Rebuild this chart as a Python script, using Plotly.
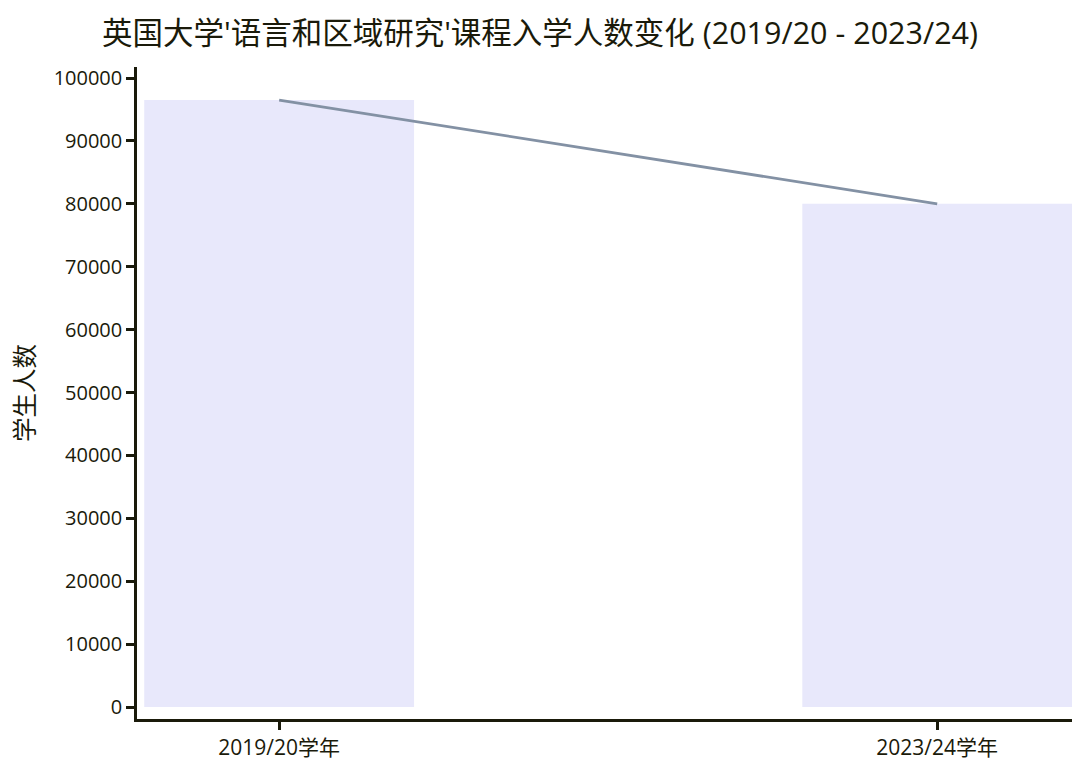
import plotly.graph_objects as go

categories = ["2019/20学年", "2023/24学年"]
students = [96500, 80000]
y_ticks = [0, 10000, 20000, 30000, 40000, 50000, 60000, 70000, 80000, 90000, 100000]

FONT = "Open Sans, Noto Sans CJK SC"
INK = "#1a1a0a"

fig = go.Figure()
fig.add_trace(go.Bar(x=categories, y=students, marker=dict(color="#E8E8FB", line=dict(width=0)),
                     width=0.41, showlegend=False, hoverinfo="x+y"))
fig.add_trace(go.Scatter(x=categories, y=students, mode="lines",
                         line=dict(color="#8391A4", width=2.8), showlegend=False))

fig.update_layout(
    width=1080, height=772,
    margin=dict(l=129, r=8, t=59, b=61),
    paper_bgcolor="white", plot_bgcolor="white",
    font=dict(family=FONT, color=INK, size=20),
    title=dict(text="英国大学'语言和区域研究'课程入学人数变化 (2019/20 - 2023/24)",
               x=0.4926, xanchor="center", y=0.9676, yanchor="middle",
               font=dict(size=30.5, family=FONT, color=INK)),
    xaxis=dict(type="category", range=[-0.216, 1.217], showline=True, linewidth=2.5,
               linecolor=INK, ticks="outside", ticklen=8, tickwidth=2.5,
               tickcolor=INK, showgrid=False, zeroline=False,
               tickfont=dict(size=21)),
    yaxis=dict(range=[-1900, 101750], showline=True, linewidth=2.5, linecolor=INK,
               ticks="outside", ticklen=8, tickwidth=2.5, tickcolor=INK,
               tickvals=y_ticks, tickformat="d", showgrid=False, zeroline=False,
               title=dict(text="学生人数", font=dict(size=24.5), standoff=17),
               tickfont=dict(size=20)),
)

fig.write_html("out.html")
